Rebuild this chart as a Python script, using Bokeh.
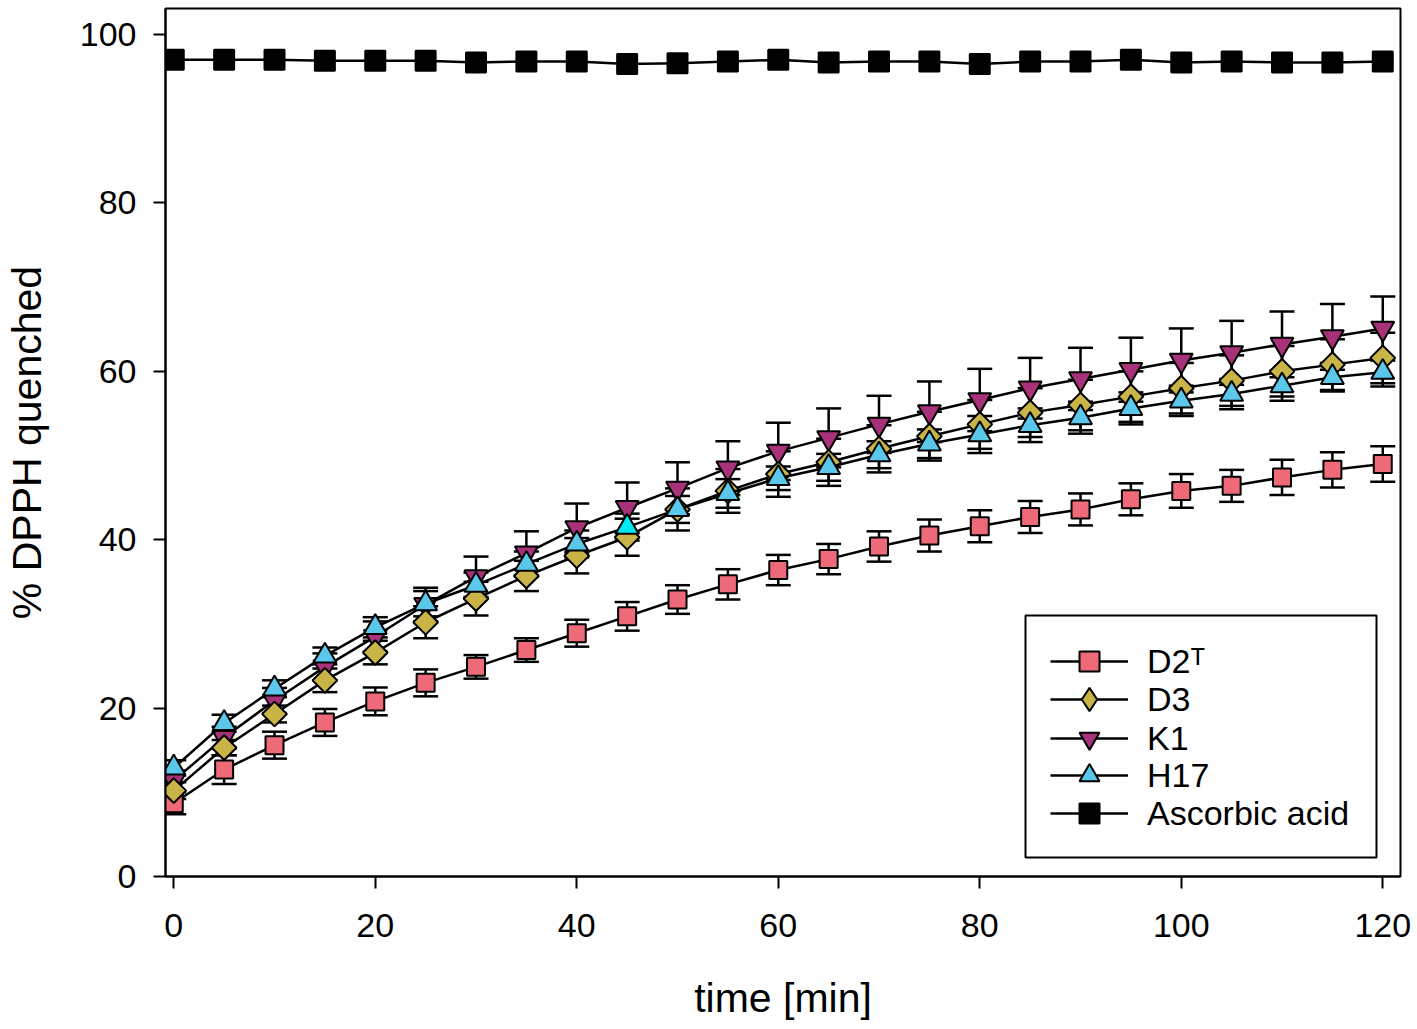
from bokeh.plotting import figure
from bokeh.models import (Range1d, Whisker, TeeHead, ColumnDataSource, Legend, LegendItem,
                          FixedTicker, BoxAnnotation)
from bokeh.embed import file_html
from bokeh.resources import INLINE
import numpy as np

# ---- data ----
time_min = [0, 5, 10, 15, 20, 25, 30, 35, 40, 45, 50, 55, 60, 65, 70, 75, 80, 85, 90, 95, 100, 105, 110, 115, 120]

D2T = [8.7, 12.7, 15.6, 18.3, 20.8, 23.0, 24.9, 26.9, 28.9, 30.9, 32.9, 34.7, 36.4, 37.7, 39.2, 40.5,
       41.6, 42.7, 43.6, 44.8, 45.8, 46.4, 47.4, 48.3, 49.0]
D2T_err = [1.3, 1.7, 1.6, 1.6, 1.65, 1.6, 1.4, 1.4, 1.6, 1.7, 1.7, 1.8, 1.8, 1.8, 1.8, 1.9,
           1.9, 1.9, 1.9, 1.9, 2.0, 1.9, 2.1, 2.1, 2.1]

D3 = [10.2, 15.3, 19.3, 23.3, 26.6, 30.2, 33.0, 35.7, 38.1, 40.3, 43.6, 45.8, 47.8, 49.2, 50.8, 52.3,
      53.7, 55.1, 56.0, 57.0, 58.0, 58.9, 60.0, 60.8, 61.6]
D3_err = [1.0, 0.9, 1.0, 1.4, 1.4, 1.9, 2.0, 1.8, 2.1, 2.2, 2.5, 2.6, 2.7, 2.8, 2.8, 2.9,
          2.9, 2.9, 3.0, 3.0, 3.0, 3.0, 3.0, 3.0, 3.0]

K1 = [11.4, 16.5, 20.9, 24.9, 28.5, 32.3, 35.6, 38.4, 41.4, 43.8, 46.1, 48.5, 50.5, 52.1, 53.7, 55.2,
      56.6, 58.0, 59.1, 60.2, 61.3, 62.2, 63.2, 64.1, 65.1]
K1_err = [1.2, 1.3, 1.5, 1.6, 1.8, 2.0, 2.4, 2.6, 2.9, 3.0, 3.1, 3.2, 3.4, 3.5, 3.4, 3.6,
          3.7, 3.6, 3.7, 3.8, 3.8, 3.8, 3.9, 3.9, 3.8]

H17 = [12.9, 18.2, 22.3, 26.2, 29.6, 32.4, 34.6, 37.1, 39.5, 41.5, 43.6, 45.5, 47.3, 48.6, 50.1, 51.4,
       52.5, 53.6, 54.5, 55.6, 56.5, 57.3, 58.3, 59.3, 59.9]
H17_err = [0.9, 1.0, 1.0, 1.0, 1.2, 1.5, 1.5, 1.5, 1.6, 1.6, 1.6, 1.7, 1.4, 1.6, 1.6, 1.7,
           2.2, 2.0, 1.9, 1.9, 1.8, 1.8, 1.8, 1.7, 1.7]

ascorbic = [97.0, 97.0, 97.0, 96.9, 96.9, 96.9, 96.7, 96.8, 96.8, 96.5, 96.6, 96.8, 97.0, 96.7, 96.8, 96.8,
            96.5, 96.8, 96.8, 97.0, 96.7, 96.8, 96.7, 96.7, 96.8]

x_ticks = [0, 20, 40, 60, 80, 100, 120]
y_ticks = [0, 20, 40, 60, 80, 100]

labels = ["D2\u1d40", "D3", "K1", "H17", "Ascorbic acid"]

# ---- styles ----
C_D2T = "#EF6A78"
C_D3 = "#C9B447"
C_K1 = "#A8327A"
C_H17 = "#5BC8EB"
H17_fill = [C_H17] * len(time_min)
H17_fill[9] = "#00E8F0"  # the one highlighted point in the reference

FONT = "Liberation Sans"

p = figure(width=1417, height=1029, output_backend="svg", toolbar_location=None,
           x_range=Range1d(-0.82, 121.76), y_range=Range1d(0, 103.1),
           min_border_left=165, min_border_right=17, min_border_top=8, min_border_bottom=153)
p.grid.visible = False
p.outline_line_color = "black"
p.outline_line_width = 2
p.background_fill_color = "white"
p.border_fill_color = "white"

for ax in (p.xaxis[0], p.yaxis[0]):
    ax.axis_line_width = 2
    ax.axis_line_color = "black"
    ax.major_tick_line_width = 2
    ax.major_tick_line_color = "black"
    ax.major_tick_out = 12
    ax.major_tick_in = 0
    ax.minor_tick_line_color = None
    ax.major_label_text_font = FONT
    ax.major_label_text_font_size = "34px"
    ax.major_label_text_color = "black"
    ax.axis_label_text_font = FONT
    ax.axis_label_text_font_size = "41px"
    ax.axis_label_text_font_style = "normal"
    ax.axis_label_text_color = "black"

p.xaxis[0].ticker = FixedTicker(ticks=x_ticks)
p.yaxis[0].ticker = FixedTicker(ticks=y_ticks)
p.xaxis[0].axis_label = "time [min]"
p.yaxis[0].axis_label = "% DPPH quenched"
p.xaxis[0].major_label_standoff = 25
p.yaxis[0].major_label_standoff = 17
p.xaxis[0].axis_label_standoff = 35
p.yaxis[0].axis_label_standoff = 27

series = [
    ("D2T", D2T, D2T_err, "square", C_D2T, 18, 0),
    ("K1", K1, K1_err, "inverted_triangle", C_K1, 23, 0),
    ("D3", D3, D3_err, "square", C_D3, 17.5, np.pi / 4),
    ("H17", H17, H17_err, "triangle", H17_fill, 23, 0),
]

items = {}
for name, vals, err, marker, color, size, ang in series:
    v = np.array(vals)
    e = np.array(err)
    src = ColumnDataSource(dict(x=time_min, y=vals, lo=list(v - e), hi=list(v + e),
                                fc=color if isinstance(color, list) else [color] * len(time_min)))
    w = Whisker(source=src, base="x", lower="lo", upper="hi", level="underlay",
                line_color="black", line_width=2.5,
                lower_head=TeeHead(size=25, line_width=2.5, line_color="black"),
                upper_head=TeeHead(size=25, line_width=2.5, line_color="black"))
    p.add_layout(w)
    lr = p.line("x", "y", source=src, line_color="black", line_width=2.5)
    key = None
    if name == "D3":
        # legend key (a diamond): legends never rotate markers; on the plot it is a
        # 1px dot hidden beneath the rotated squares drawn next
        key = p.scatter("x", "y", source=src, marker="diamond", size=1,
                        fill_color=C_D3, line_color="black", line_width=2)
    sr = p.scatter("x", "y", source=src, marker=marker, size=size, angle=ang,
                   fill_color="fc", line_color="black", line_width=2)
    items[name] = [lr, key if key is not None else sr]

src_a = ColumnDataSource(dict(x=time_min, y=ascorbic))
la = p.line("x", "y", source=src_a, line_color="black", line_width=2.5)
sa = p.scatter("x", "y", source=src_a, marker="square", size=20, fill_color="black",
               line_color="black", line_width=2)
items["asc"] = [la, sa]

# legend frame
p.add_layout(BoxAnnotation(left=1025, right=1376, top=615, bottom=857,
                           left_units="canvas", right_units="canvas",
                           top_units="canvas", bottom_units="canvas",
                           fill_color="white", fill_alpha=1.0,
                           line_color="black", line_alpha=1.0, line_width=2, level="annotation"))

# one row per legend so that the rows can be as tight as in the reference
rows = [("D2T", 0, 50, 190), ("D3", 1, 58, 148), ("K1", 2, 50, 113), ("H17", 3, 50, 76), ("asc", 4, 50, 38)]
for key, li, gh, ypos in rows:
    lg = Legend(items=[LegendItem(label=labels[li], renderers=items[key])], location=(885, ypos))
    lg.border_line_color = None
    lg.background_fill_alpha = 0
    lg.padding = 0
    lg.margin = 0
    lg.glyph_width = 78
    lg.glyph_height = gh
    lg.label_height = 38
    lg.spacing = 0
    lg.label_standoff = 19
    lg.label_text_font = FONT
    lg.label_text_font_size = "34px"
    lg.label_text_color = "black"
    lg.label_text_baseline = "middle"
    p.add_layout(lg, "center")

open("out.html", "w").write(file_html(p, INLINE))
